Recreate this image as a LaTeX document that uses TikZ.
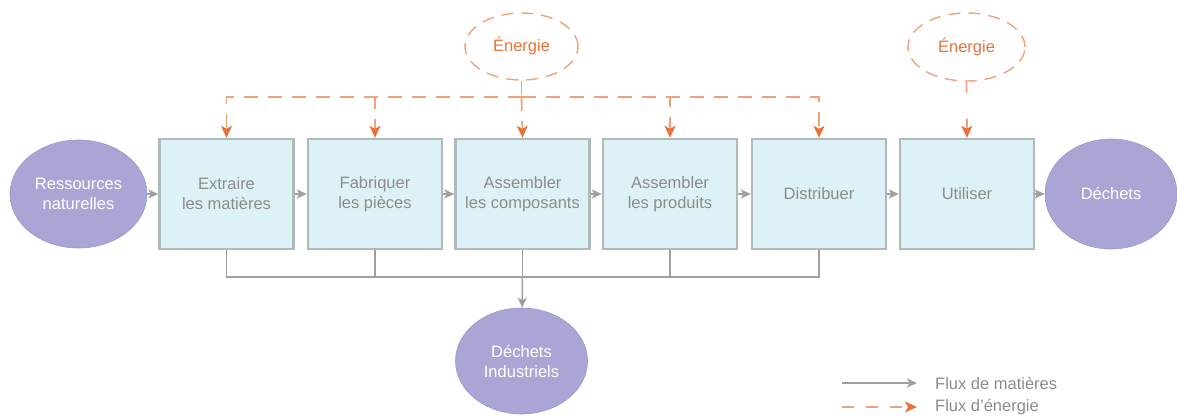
\documentclass[tikz,border=0pt]{standalone}
\usepackage{fontspec}
\setmainfont{Liberation Sans}
\usetikzlibrary{shapes.geometric,arrows.meta}
\definecolor{boxfill}{HTML}{DDF2F6}
\definecolor{boxline}{HTML}{B0BABA}
\definecolor{ellfill}{HTML}{A9A6D6}
\definecolor{ellline}{HTML}{9C99CC}
\definecolor{orng}{HTML}{E8733A}
\definecolor{lorng}{HTML}{F0A27C}
\definecolor{grayline}{HTML}{A0A0A0}
\definecolor{txtgray}{HTML}{8C8C8C}
\tikzset{
  stepbox/.style={draw=boxline, line width=2.4pt, fill=boxfill, minimum width=134pt, minimum height=110pt, inner sep=0pt, align=center, text=txtgray, font=\fontsize{16.5}{20}\selectfont},
  blob/.style={ellipse, draw=ellline, line width=0.6pt, fill=ellfill, inner sep=0pt, align=center, text=white, font=\fontsize{16.5}{20}\selectfont},
  enerblob/.style={ellipse, draw=lorng, line width=1.4pt, dash pattern=on 12pt off 8pt, inner sep=0pt, text=orng, font=\fontsize{16.5}{20}\selectfont},
  matflow/.style={draw=grayline, line width=1.5pt, -{Stealth[length=10pt,width=9pt,inset=2.5pt]}},
  matline/.style={draw=grayline, line width=1.5pt},
  enflow/.style={draw=lorng, line width=1.8pt, dash pattern=on 14pt off 10pt, -{Stealth[length=12pt,width=11pt,inset=3pt,fill=orng,color=orng]}},
  enline/.style={draw=lorng, line width=1.8pt, dash pattern=on 14pt off 10pt},
  legtext/.style={anchor=west, text=txtgray, inner sep=0pt, font=\fontsize{16.5}{20}\selectfont}
}
\begin{document}
\begin{tikzpicture}[x=1pt,y=-1pt]
\useasboundingbox (0,0) rectangle (1177,415);
% nodes
\node[blob, minimum width=137pt, minimum height=108pt] (res) at (78.5,194) {Ressources\\naturelles};
\node[stepbox] (b1) at (226.5,194) {Extraire\\les matières};
\node[stepbox] (b2) at (375,194) {Fabriquer\\les pièces};
\node[stepbox] (b3) at (522.5,194) {Assembler\\les composants};
\node[stepbox] (b4) at (670,194) {Assembler\\les produits};
\node[stepbox] (b5) at (819,194) {Distribuer};
\node[stepbox] (b6) at (967,194) {Utiliser};
\node[blob, minimum width=132pt, minimum height=110pt] (dec) at (1111,194) {Déchets};
\node[blob, minimum width=132pt, minimum height=106pt] (ind) at (521.5,361) {Déchets\\Industriels};
\node[enerblob, minimum width=113pt, minimum height=67pt] (e1) at (521.5,46.5) {Énergie};
\node[enerblob, minimum width=117pt, minimum height=68pt] (e2) at (966.5,47) {Énergie};
% material flows
\draw[matflow] (res) -- (b1);
\draw[matflow] (b1) -- (b2);
\draw[matflow] (b2) -- (b3);
\draw[matflow] (b3) -- (b4);
\draw[matflow] (b4) -- (b5);
\draw[matflow] (b5) -- (b6);
\draw[matflow] (b6) -- (dec);
\coordinate (bus) at (522.5,277);
\draw[matline] (b1.south) |- (bus);
\draw[matline] (b5.south) |- (bus);
\draw[matline] (b2.south) -- (b2.south |- bus);
\draw[matline] (b4.south) -- (b4.south |- bus);
\draw[matline] (b3.south) -- (bus);
\draw[matflow] (bus) -- (ind);
% energy flows
\coordinate (ebus) at (521.5,97);
\draw[enline] (e1.south) -- (ebus);
\draw[enflow] (ebus) -| (b1.north);
\draw[enflow] (ebus) -| (b2.north);
\draw[enflow] (ebus) -- (b3.north);
\draw[enflow] (ebus) -| (b4.north);
\draw[enflow] (ebus) -| (b5.north);
\draw[enflow, dash pattern=on 11pt off 26pt] (e2.south) -- (b6.north);
% legend
\coordinate (l1a) at (842,383);
\coordinate (l1b) at (917,383);
\coordinate (l2a) at (842,407);
\coordinate (l2b) at (917,407);
\draw[matflow] (l1a) -- (l1b);
\draw[enflow, dash pattern=on 12pt off 12pt] (l2a) -- (l2b);
\node[legtext] (t1) at (935,383) {Flux de matières};
\node[legtext] (t2) at (935,407) {Flux d'énergie};
\end{tikzpicture}
\end{document}
